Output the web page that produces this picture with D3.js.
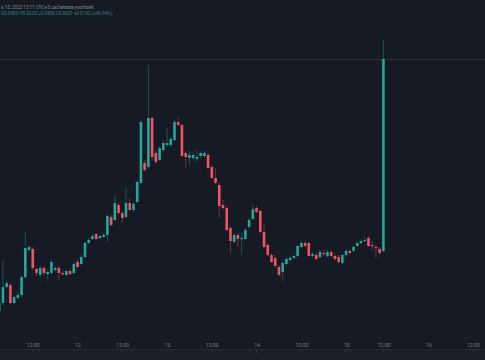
<!DOCTYPE html>
<html>
<head>
<meta charset="utf-8">
<style>
  html, body { margin: 0; padding: 0; background: #161a25; }
  svg { display: block; }
</style>
</head>
<body>
<svg id="chart" width="485" height="360"></svg>
<script src="https://d3js.org/d3.v7.min.js"></script>
<script>

// hourly candles
var open = [0.0349,0.0357,0.0373,0.0375,0.0357,0.0362,0.0365,0.0383,0.0410,0.0411,
  0.0391,0.0385,0.0392,0.0386,0.0387,0.0390,0.0392,0.0387,0.0385,0.0389,
  0.0387,0.0398,0.0396,0.0403,0.0417,0.0421,0.0426,0.0422,0.0423,0.0425,
  0.0443,0.0440,0.0455,0.0447,0.0443,0.0457,0.0450,0.0458,0.0477,0.0497,
  0.0493,0.0542,0.0507,0.0500,0.0510,0.0515,0.0515,0.0520,0.0538,0.0535,
  0.0507,0.0502,0.0502,0.0501,0.0504,0.0504,0.0505,0.0493,0.0482,0.0475,
  0.0455,0.0452,0.0432,0.0418,0.0425,0.0421,0.0421,0.0433,0.0441,0.0452,
  0.0449,0.0428,0.0415,0.0405,0.0402,0.0393,0.0388,0.0396,0.0400,0.0402,
  0.0404,0.0413,0.0417,0.0417,0.0404,0.0405,0.0403,0.0407,0.0404,0.0408,
  0.0404,0.0403,0.0397,0.0405,0.0409,0.0409,0.0414,0.0417,0.0419,0.0422,
  0.0415,0.0413,0.0411,0.0409];
var high = [0.0358,0.0400,0.0380,0.0377,0.0364,0.0368,0.0384,0.0428,0.0415,0.0413,
  0.0392,0.0394,0.0394,0.0390,0.0401,0.0394,0.0394,0.0389,0.0390,0.0391,
  0.0397,0.0400,0.0405,0.0419,0.0422,0.0426,0.0427,0.0425,0.0427,0.0446,
  0.0445,0.0465,0.0457,0.0449,0.0473,0.0462,0.0458,0.0480,0.0540,0.0500,
  0.0595,0.0544,0.0510,0.0514,0.0519,0.0532,0.0523,0.0540,0.0543,0.0537,
  0.0509,0.0510,0.0508,0.0510,0.0509,0.0509,0.0507,0.0495,0.0492,0.0477,
  0.0460,0.0454,0.0434,0.0427,0.0427,0.0427,0.0432,0.0442,0.0455,0.0454,
  0.0451,0.0436,0.0417,0.0407,0.0405,0.0395,0.0399,0.0403,0.0404,0.0406,
  0.0415,0.0419,0.0419,0.0418,0.0408,0.0407,0.0410,0.0410,0.0410,0.0410,
  0.0406,0.0405,0.0406,0.0411,0.0411,0.0415,0.0418,0.0421,0.0423,0.0424,
  0.0419,0.0415,0.0413,0.0620];
var low = [0.0347,0.0355,0.0372,0.0356,0.0356,0.0360,0.0363,0.0381,0.0409,0.0390,
  0.0384,0.0383,0.0385,0.0379,0.0386,0.0388,0.0380,0.0384,0.0384,0.0385,
  0.0386,0.0392,0.0395,0.0402,0.0416,0.0420,0.0420,0.0421,0.0422,0.0418,
  0.0434,0.0439,0.0446,0.0437,0.0442,0.0449,0.0448,0.0457,0.0476,0.0488,
  0.0491,0.0500,0.0496,0.0499,0.0508,0.0513,0.0513,0.0519,0.0534,0.0503,
  0.0492,0.0495,0.0500,0.0498,0.0502,0.0503,0.0491,0.0481,0.0476,0.0442,
  0.0450,0.0429,0.0407,0.0417,0.0413,0.0405,0.0420,0.0432,0.0440,0.0447,
  0.0427,0.0412,0.0404,0.0397,0.0393,0.0384,0.0379,0.0394,0.0398,0.0401,
  0.0402,0.0412,0.0413,0.0403,0.0402,0.0400,0.0402,0.0404,0.0403,0.0403,
  0.0399,0.0396,0.0396,0.0404,0.0406,0.0408,0.0413,0.0416,0.0418,0.0413,
  0.0410,0.0402,0.0405,0.0408];
var close = [0.0357,0.0373,0.0377,0.0357,0.0363,0.0365,0.0383,0.0412,0.0413,0.0392,
  0.0387,0.0392,0.0387,0.0388,0.0398,0.0392,0.0387,0.0386,0.0389,0.0386,
  0.0396,0.0393,0.0403,0.0417,0.0420,0.0424,0.0421,0.0424,0.0425,0.0444,
  0.0435,0.0457,0.0447,0.0442,0.0457,0.0450,0.0456,0.0478,0.0538,0.0490,
  0.0542,0.0503,0.0498,0.0512,0.0517,0.0517,0.0521,0.0538,0.0535,0.0504,
  0.0503,0.0505,0.0505,0.0503,0.0507,0.0507,0.0492,0.0482,0.0477,0.0454,
  0.0452,0.0430,0.0419,0.0425,0.0421,0.0422,0.0430,0.0440,0.0451,0.0448,
  0.0428,0.0413,0.0405,0.0398,0.0394,0.0385,0.0397,0.0401,0.0402,0.0404,
  0.0414,0.0417,0.0414,0.0404,0.0406,0.0401,0.0408,0.0406,0.0408,0.0404,
  0.0401,0.0398,0.0405,0.0409,0.0407,0.0413,0.0417,0.0419,0.0420,0.0414,
  0.0414,0.0412,0.0407,0.0601];

// time axis: bar index -> label
var tickIdx = [9, 21, 33, 45, 57, 69, 81, 93, 103, 115, 127];
var tickLabels = ["12:00", "12", "12:00", "13", "12:00", "14", "12:00", "15", "12:00", "16", "12:00"];

var headerLine1 = "а 15, 2023 13:11 UTC+3 cachetrade yourbank";
var headerLine2 = "O0.0409  H0.0620  L0.0408  C0.0601  +0.0192 (+46.94%)";

var up = "#26a69a", down = "#ef5364";

var svg = d3.select("#chart"),
    width = +svg.attr("width"),
    height = +svg.attr("height");

var data = open.map(function(o, i) {
  return {i: i, o: o, h: high[i], l: low[i], c: close[i]};
});

var x = d3.scaleLinear().domain([0, 127]).range([-0.8, -0.8 + 127 * 3.73]);
var y = d3.scaleLinear().domain([0.030, 0.066]).range([360, 0]);

svg.append("rect").attr("width", width).attr("height", height).attr("fill", "#161a25");

// bottom time scale band
svg.append("rect").attr("x", 0).attr("y", 349).attr("width", width).attr("height", 11)
    .attr("fill", "#1c1f29");
svg.append("line").attr("x1", 0).attr("x2", width).attr("y1", 349.5).attr("y2", 349.5)
    .attr("stroke", "#272b36");

// last price line
svg.append("line")
    .attr("x1", 0).attr("x2", width)
    .attr("y1", Math.round(y(close[close.length - 1])) + 0.5)
    .attr("y2", Math.round(y(close[close.length - 1])) + 0.5)
    .attr("stroke", "#283139").attr("stroke-width", 1);

var candles = svg.append("g").selectAll("g").data(data).enter().append("g");

candles.append("line")
    .attr("x1", function(d) { return x(d.i); })
    .attr("x2", function(d) { return x(d.i); })
    .attr("y1", function(d) { return y(d.h); })
    .attr("y2", function(d) { return y(d.l); })
    .attr("stroke", function(d) { return d.c >= d.o ? up : down; })
    .attr("stroke-opacity", 0.5)
    .attr("stroke-width", 0.8);

candles.append("rect")
    .attr("x", function(d) { return x(d.i) - 1.3; })
    .attr("width", 2.6)
    .attr("y", function(d) { return y(Math.max(d.o, d.c)); })
    .attr("height", function(d) { return Math.max(1.2, Math.abs(y(d.o) - y(d.c))); })
    .attr("fill", function(d) { return d.c >= d.o ? up : down; });

// time axis
var xAxis = d3.axisBottom(x)
    .tickValues(tickIdx)
    .tickFormat(function(d, i) { return tickLabels[i]; })
    .tickSize(0)
    .tickPadding(0);

var ax = svg.append("g").attr("transform", "translate(0,343)").call(xAxis);
ax.select(".domain").remove();
ax.selectAll("text")
    .attr("fill", "#767a85")
    .attr("font-family", "Roboto, sans-serif")
    .attr("font-size", 5.2);

// little tick marks under the band line
svg.append("g").selectAll("line").data(tickIdx).enter().append("line")
    .attr("x1", function(d) { return x(d); })
    .attr("x2", function(d) { return x(d); })
    .attr("y1", 350).attr("y2", 353)
    .attr("stroke", "#343843").attr("stroke-width", 0.6);

// header
svg.append("text").attr("x", 1).attr("y", 9)
    .attr("fill", "#858994").attr("font-family", "Roboto, sans-serif").attr("font-size", 4.6)
    .text(headerLine1);
svg.append("text").attr("x", 1).attr("y", 15)
    .attr("fill", "#1f8a7f").attr("font-family", "Roboto, sans-serif").attr("font-size", 4.6)
    .text(headerLine2);

</script>
</body>
</html>
